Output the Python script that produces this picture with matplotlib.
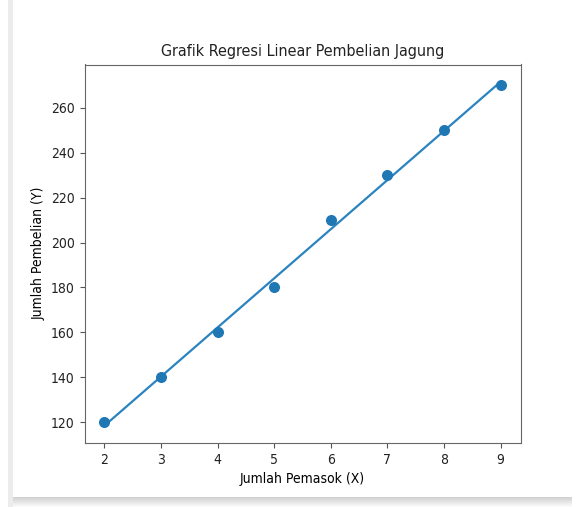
import matplotlib
matplotlib.use("Agg")
import matplotlib.pyplot as plt
import numpy as np
from matplotlib.patches import Rectangle

plt.rcParams['font.family'] = ['DejaVu Sans']
plt.rcParams['font.stretch'] = 'condensed'
plt.rcParams['text.color'] = '#222222'
plt.rcParams['xtick.labelcolor'] = '#222222'
plt.rcParams['ytick.labelcolor'] = '#222222'

# data
pemasok = [2, 3, 4, 5, 6, 7, 8, 9]
pembelian = [120, 140, 160, 180, 210, 230, 250, 270]

x = np.array(pemasok, dtype=float)
y = np.array(pembelian, dtype=float)
slope, intercept = np.polyfit(x, y, 1)
y_pred = slope * x + intercept

fig = plt.figure(figsize=(5.76, 5.07), dpi=100)
fig.patch.set_facecolor("white")

# screenshot frame: grey strip at left, shadow at bottom
fig.patches.append(Rectangle((8/576, 0), 5/576, 1, transform=fig.transFigure,
                             facecolor="#ececec", edgecolor="none", zorder=0))
for i in range(10):
    c = 0.82 + 0.018 * i
    fig.patches.append(Rectangle((13/576, (9 - i) / 507), 559/576, 1/507,
                                 transform=fig.transFigure,
                                 facecolor=(c, c, c), edgecolor="none", zorder=0))

ax = fig.add_axes([84.5/576, 1 - 443/507, 436/576, (443 - 64.5)/507])
ax.scatter(x, y, s=48, color="#1f77b4", zorder=3)
ax.plot(x, y_pred, color="#2b83c0", linewidth=1.6, zorder=2)

ax.set_title("Grafik Regresi Linear Pembelian Jagung", fontsize=11.5)
ax.set_xlabel("Jumlah Pemasok (X)", fontsize=10)
ax.set_ylabel("Jumlah Pembelian (Y)", fontsize=10)
ax.tick_params(labelsize=10, color="#555555")
for s in ax.spines.values():
    s.set_color("#666666")

fig.savefig("out.png", dpi=100)
